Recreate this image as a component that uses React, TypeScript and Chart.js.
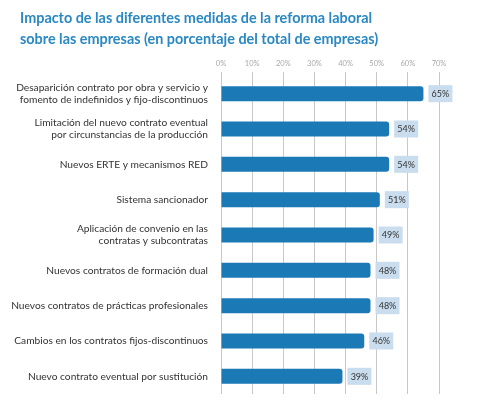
import React, { useEffect, useRef } from "react";
import { Chart, registerables } from "chart.js";

Chart.register(...registerables);

const titleLines = [
  "Impacto de las diferentes medidas de la reforma laboral",
  "sobre las empresas (en porcentaje del total de empresas)",
];

const categories: (string | string[])[] = [
  ["Desaparición contrato por obra y servicio y", "fomento de indefinidos y fijo-discontinuos"],
  ["Limitación del nuevo contrato eventual", "por circunstancias de la producción"],
  "Nuevos ERTE y mecanismos RED",
  "Sistema sancionador",
  ["Aplicación de convenio en las", "contratas y subcontratas"],
  "Nuevos contratos de formación dual",
  "Nuevos contratos de prácticas profesionales",
  "Cambios en los contratos fijos-discontinuos",
  "Nuevo contrato eventual por sustitución",
];

const values = [65, 54, 54, 51, 49, 48, 48, 46, 39];

const axisMin = 0;
const axisMax = 70;
const axisStep = 10;

const FONT = "Lato, 'Open Sans', sans-serif";

const valueLabelPlugin = {
  id: "valueLabels",
  afterDatasetsDraw(chart: any) {
    const ctx = chart.ctx;
    const meta = chart.getDatasetMeta(0);
    ctx.save();
    ctx.font = `9px ${FONT}`;
    ctx.textAlign = "center";
    ctx.textBaseline = "middle";
    meta.data.forEach((bar: any, i: number) => {
      const w = 24;
      const h = 17;
      const x0 = bar.x + 5;
      const y0 = bar.y - h / 2;
      ctx.fillStyle = "#c9ddee";
      ctx.fillRect(x0, y0, w, h);
      ctx.fillStyle = "#333333";
      ctx.fillText(values[i] + "%", x0 + w / 2, bar.y + 0.5);
    });
    ctx.restore();
  },
};

export default function App() {
  const ref = useRef<HTMLCanvasElement | null>(null);
  useEffect(() => {
    if (!ref.current) return;
    const chart = new Chart(ref.current, {
      type: "bar",
      data: {
        labels: categories,
        datasets: [
          {
            data: values,
            backgroundColor: "#1b7ab6",
            borderRadius: 3,
            borderSkipped: "start",
            barPercentage: 0.85,
            categoryPercentage: 0.5,
          },
        ],
      },
      options: {
        indexAxis: "y",
        animation: false,
        responsive: false,
        maintainAspectRatio: false,
        layout: { padding: { left: 0, right: 40, top: 55, bottom: 10 } },
        plugins: {
          legend: { display: false },
          tooltip: { enabled: false },
          title: { display: false },
        },
        scales: {
          x: {
            position: "top",
            min: axisMin,
            max: axisMax,
            grid: {
              color: "#c8c8c8",
              lineWidth: 1,
              drawTicks: true,
              tickLength: 4,
            },
            border: { display: false },
            ticks: {
              stepSize: axisStep,
              color: "#a8a8a8",
              font: { family: FONT, size: 7.5 },
              padding: 4,
              callback: (v: any) => v + "%",
            },
          },
          y: {
            grid: { display: false, drawTicks: false },
            border: { display: false },
            ticks: {
              color: "#333333",
              font: { family: FONT, size: 10.2, lineHeight: 1.2 },
              padding: 13,
            },
            afterFit(scale: any) {
              scale.width = 221;
              scale.paddingTop = 0;
              scale.paddingBottom = 0;
            },
          },
        },
      },
      plugins: [valueLabelPlugin],
    });
    return () => chart.destroy();
  }, []);
  return (
    <div style={{ position: "absolute", left: 0, top: 0, width: 479, height: 404, background: "#fff" }}>
      <canvas ref={ref} width={479} height={404} style={{ width: 479, height: 404, display: "block" }} />
      <div
        style={{
          position: "absolute",
          left: 20,
          top: 7,
          fontFamily: FONT,
          fontWeight: 700,
          fontSize: 14.4,
          lineHeight: "21px",
          color: "#2a88c3",
          whiteSpace: "nowrap",
        }}
      >
        {titleLines.map((t, i) => (
          <div key={i}>{t}</div>
        ))}
      </div>
    </div>
  );
}
